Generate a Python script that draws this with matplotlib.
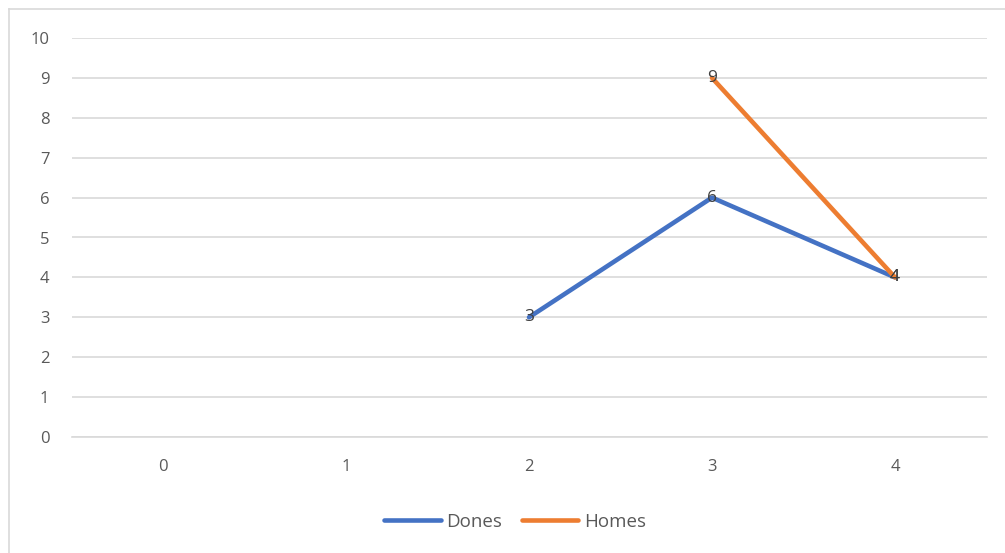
import matplotlib.pyplot as plt
from matplotlib.lines import Line2D

# categories on x axis
categories = [0, 1, 2, 3, 4]
# series values (None = no point)
dones = [None, None, 3, 6, 4]
homes = [None, None, None, 9, 4]
y_ticks = list(range(0, 11))

blue = '#4472C4'
orange = '#ED7D31'
grey_text = '#595959'
grid_col = '#d9d9d9'

plt.rcParams['font.family'] = ['Open Sans', 'DejaVu Sans']

fig = plt.figure(figsize=(10.05, 5.53), dpi=100)
ax = fig.add_axes([71.5 / 1005, 116 / 553, 915 / 1005, 399 / 553])


def pts(vals):
    xs = [c for c, v in zip(categories, vals) if v is not None]
    ys = [v for v in vals if v is not None]
    return xs, ys


xd, yd = pts(dones)
xh, yh = pts(homes)
ax.plot(xd, yd, color=blue, lw=3.3, solid_capstyle='round', label='Dones', zorder=3)
ax.plot(xh, yh, color=orange, lw=3.3, solid_capstyle='round', label='Homes', zorder=3)

# data labels centered on points
for x, y in zip(xd, yd):
    ax.text(x, y, str(y), ha='center', va='center', fontsize=12.5, color='#404040', zorder=4)
for x, y in zip(xh, yh):
    ax.text(x, y, str(y), ha='center', va='center', fontsize=12.5, color='#404040', zorder=4)

ax.set_xlim(-0.5, 4.5)
ax.set_ylim(0, 10)
ax.set_xticks(categories)
ax.set_yticks(y_ticks)
ax.tick_params(axis='both', length=0, labelsize=12, labelcolor=grey_text)
ax.tick_params(axis='y', pad=16)
ax.tick_params(axis='x', pad=16)
ax.grid(axis='y', color=grid_col, lw=1.2)
ax.set_axisbelow(True)
for s in ['top', 'right', 'left']:
    ax.spines[s].set_visible(False)
ax.spines['bottom'].set_color(grid_col)
ax.spines['bottom'].set_linewidth(1.2)

ax.legend(loc='center', bbox_to_anchor=(515 / 1005, 31 / 553), bbox_transform=fig.transFigure,
          ncol=2, frameon=False, fontsize=13.5, handlelength=3.0, handletextpad=0.3,
          columnspacing=1.05, labelcolor=grey_text)

# chart area border (top and left visible)
fig.add_artist(Line2D([8.5 / 1005, 1.0], [1 - 8.5 / 553, 1 - 8.5 / 553],
                      transform=fig.transFigure, color=grid_col, lw=1.2))
fig.add_artist(Line2D([8.5 / 1005, 8.5 / 1005], [0, 1 - 8.5 / 553],
                      transform=fig.transFigure, color=grid_col, lw=1.2))

fig.savefig('out.png', dpi=100)
